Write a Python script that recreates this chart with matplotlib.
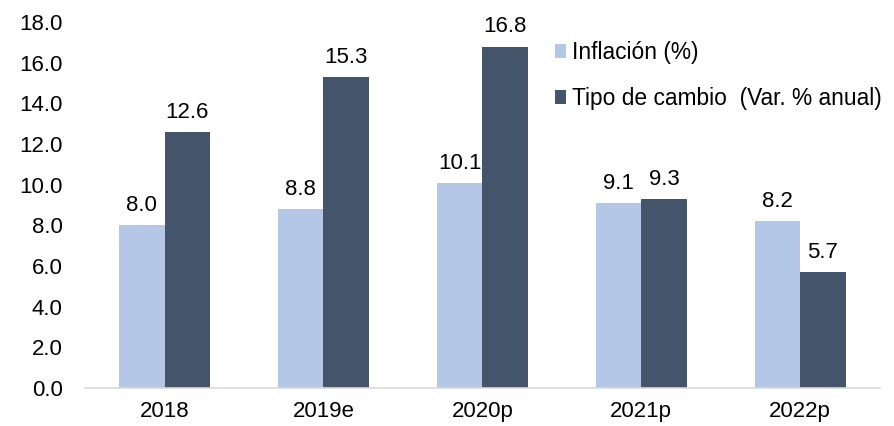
import numpy as np
import matplotlib.pyplot as plt

plt.rcParams['font.family'] = ['Liberation Sans', 'DejaVu Sans']

years = ['2018', '2019e', '2020p', '2021p', '2022p']
inflacion = [8.0, 8.8, 10.1, 9.1, 8.2]
tipo_cambio = [12.6, 15.3, 16.8, 9.3, 5.7]

c_light = '#B4C7E7'
c_dark = '#44546A'
fs = 16

fig = plt.figure(figsize=(8.95, 4.26), dpi=100)
ax = fig.add_axes([0.095, 0.089, 0.888, 0.859])

x = np.arange(len(years))
w = 0.285
b1 = ax.bar(x - w/2, inflacion, w, color=c_light, label='Inflación (%)')
b2 = ax.bar(x + w/2, tipo_cambio, w, color=c_dark, label='Tipo de cambio  (Var. % anual)')

for bars, vals in ((b1, inflacion), (b2, tipo_cambio)):
    for r, v in zip(bars, vals):
        ax.text(r.get_x() + r.get_width()/2, v + 0.45, f'{v:.1f}',
                ha='center', va='bottom', fontsize=fs)

ax.set_xlim(-0.5, len(years) - 0.5)
ax.set_ylim(0, 18)
ax.set_yticks(np.arange(0, 19, 2))
ax.set_yticklabels([f'{t:.1f}' for t in np.arange(0, 19, 2)], fontsize=fs)
ax.set_xticks(x)
ax.set_xticklabels(years, fontsize=fs)
ax.tick_params(length=0)
ax.tick_params(axis='x', pad=9)
ax.tick_params(axis='y', pad=16)
for s in ('top', 'right', 'left'):
    ax.spines[s].set_visible(False)
ax.spines['bottom'].set_color('#D9D9D9')
ax.spines['bottom'].set_linewidth(1.2)

fig.legend(loc='upper left', bbox_to_anchor=(0.607, 0.93), frameon=False,
           fontsize=16.4, handlelength=0.52, handleheight=0.52, handletextpad=0.25,
           labelspacing=1.0, borderpad=0)

fig.savefig('out.png', dpi=100)
